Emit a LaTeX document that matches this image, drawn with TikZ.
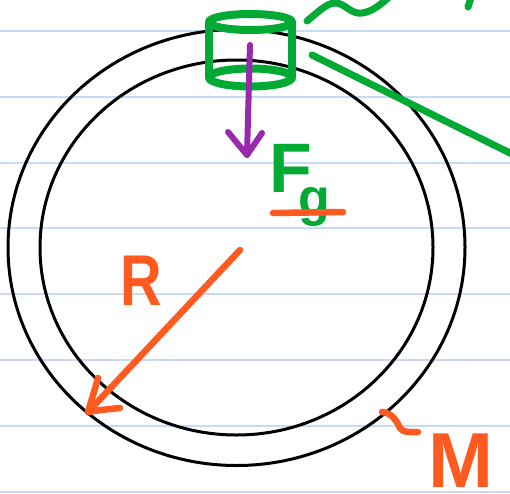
\documentclass[tikz,border=0pt]{standalone}
\usepackage{fontspec}
\setmainfont{Liberation Sans}
\definecolor{paperblue}{RGB}{197,219,247}
\definecolor{pengreen}{RGB}{0,170,52}
\definecolor{penorange}{RGB}{255,90,32}
\definecolor{penpurple}{RGB}{152,40,172}
\tikzset{
  ruled/.style={paperblue, line width=2pt},
  ring/.style={black, line width=3pt},
  gpen/.style={pengreen, line width=8pt, line cap=round, line join=round},
  gthin/.style={pengreen, line width=7pt, line cap=round, line join=round},
  open/.style={penorange, line width=6.5pt, line cap=round, line join=round},
  ppen/.style={penpurple, line width=6pt, line cap=round, line join=round},
  hand/.style={inner sep=0pt, outer sep=0pt, anchor=base west, font=\bfseries},
}
\begin{document}
\begin{tikzpicture}[x=1pt, y=-1pt]
\useasboundingbox (0,0) rectangle (510,493);
\fill[white] (0,0) rectangle (510,493);
% ruled paper
\foreach \yy in {31,96.8,162.6,228.4,294.2,360,425.8,491.6}
  \draw[ruled] (0,\yy) -- (510,\yy);
% ring
\coordinate (ctr) at (236.5,247.5);
\draw[ring] (ctr) ellipse [x radius=228.5pt, y radius=218pt];
\draw[ring] (ctr) ellipse [x radius=196.5pt, y radius=187.5pt];
% cylinder (bead)
\coordinate (cyltop) at (250.5,22);
\coordinate (cylbot) at (250.5,77.5);
\draw[gpen] (cyltop) ellipse [x radius=41.5pt, y radius=8pt];
\draw[gpen] (cylbot) ellipse [x radius=41.5pt, y radius=9pt];
\draw[gpen] (209,22) -- (209,77.5);
\draw[gpen] (292,22) -- (292,77.5);
% green squiggle, line and mark at top right
\draw[gthin] (307,21) .. controls (318,12) and (326,4) .. (334,3)
  .. controls (343,2) and (349,12) .. (358,13)
  .. controls (368,14) and (378,7) .. (388,-2);
\coordinate (ga) at (312,55);
\coordinate (gb) at (512,154);
\draw[gthin] (ga) -- (gb);
\draw[gthin] (468,7) -- (471,-2);
% weight arrow
\coordinate (fa) at (250,45);
\coordinate (fb) at (247,155);
\coordinate (fl) at (228,132);
\coordinate (fr) at (262,133);
\draw[ppen] (fa) -- (fb);
\draw[ppen] (fl) -- (fb) -- (fr);
% Fg label
\node[hand, text=pengreen] (Fg) at (269,192)
  {\fontsize{70}{70}\selectfont F\kern-13pt\raisebox{-23pt}{\fontsize{52}{52}\selectfont g}};
\coordinate (ua) at (273,213);
\coordinate (ub) at (343,212);
\draw[open] (ua) -- (ub);
% radius arrow
\coordinate (ra) at (240,250);
\coordinate (rb) at (88,412);
\coordinate (rl) at (98,378);
\coordinate (rr) at (120,408);
\draw[open] (ra) -- (rb);
\draw[open] (rl) .. controls (94,392) .. (rb) .. controls (100,410) .. (rr);
\node[hand, text=penorange, xscale=0.8] (R) at (120,305) {\fontsize{72}{72}\selectfont R};
% mass label
\coordinate (ta) at (382,412);
\coordinate (tb) at (418,432);
\draw[open] (ta) .. controls (392,413) and (396,420) .. (400,428)
  .. controls (403,433) and (410,432) .. (tb);
\node[hand, text=penorange] (M) at (428,487) {\fontsize{78}{78}\selectfont M};
\end{tikzpicture}
\end{document}
